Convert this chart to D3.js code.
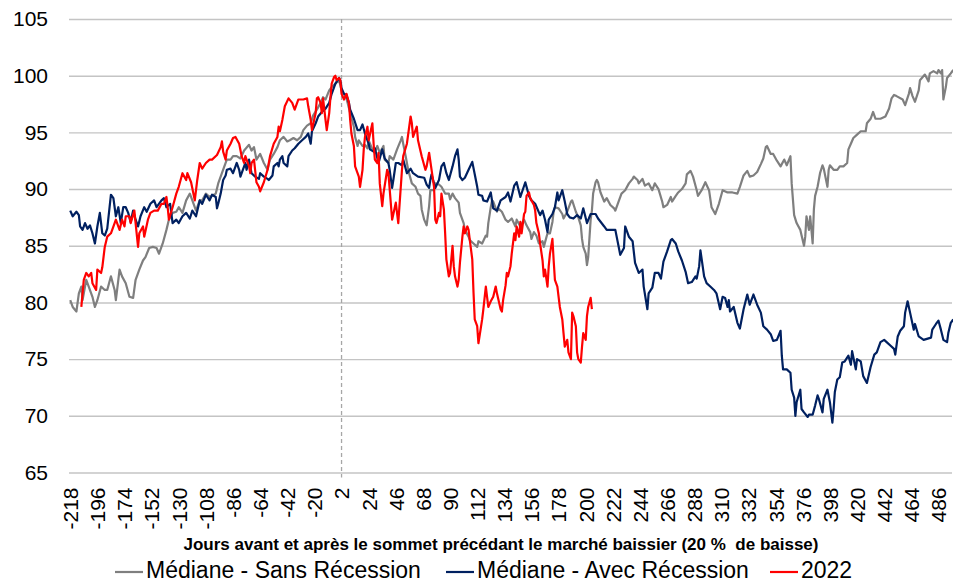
<!DOCTYPE html>
<html lang="fr">
<head>
<meta charset="utf-8" />
<script src="https://d3js.org/d3.v7.min.js"></script>
<style>
  body { margin: 0; background: #fff; }
  svg { font-family: "Liberation Sans", Arial, sans-serif; }
  .grid line { stroke: #c4c4c4; stroke-width: 1.4; }
  .axis text { fill: #000; font-size: 21px; }
</style>
</head>
<body>
<svg id="chart" width="953" height="584"></svg>
<script>
// jours (catégories) et tick labels
const tickDays = d3.range(-218, 487, 22);
const yTicks = [65, 70, 75, 80, 85, 90, 95, 100, 105];
const peakDay = 2;

// Médiane - Sans Récession
const grayDays = [-218,-216,-213,-211,-209,-208,-205,-203,-200,-198,-196,-193,-190,-188,-185,-182,-181,-178,-176,-173,-170,-167,-165,-162,-159,-157,-154,-151,-148,-146,-143,-140,-138,-135,-132,-130,-127,-124,-121,-119,-116,-113,-111,-108,-105,-100,-98,-95,-92,-91,-88,-86,-83,-80,-77,-73,-71,-69,-67,-64,-61,-58,-56,-53,-50,-48,-45,-42,-40,-37,-34,-31,-29,-26,-23,-21,-18,-15,-13,-11,-8,-6,-3,0,2,6,9,12,13,15,16,19,21,23,24,27,29,31,33,36,37,40,41,44,47,50,51,52,54,56,59,62,64,66,67,69,71,73,74,77,78,81,83,86,89,90,92,94,97,98,101,102,105,106,109,112,113,116,119,120,121,123,124,125,128,129,132,135,137,140,143,144,147,150,152,155,156,158,160,162,165,166,169,171,173,174,175,178,181,182,185,188,189,192,194,196,197,198,200,201,202,204,205,206,208,209,210,212,215,217,220,223,224,227,229,232,235,238,239,242,243,246,248,251,254,256,259,262,263,266,269,270,273,275,278,281,282,285,287,290,291,294,297,300,302,305,308,311,315,319,323,325,328,331,333,336,339,342,344,346,347,350,352,355,358,361,363,366,367,369,371,374,377,378,379,381,382,384,385,386,388,390,392,393,396,397,398,401,404,406,409,412,413,415,417,420,423,427,428,431,433,435,439,443,446,448,450,452,457,459,462,463,465,467,470,471,475,478,479,482,485,486,488,489,490,492,493,496,498];
const grayVals = [80.2,79.6,79.2,80.8,81.4,80.2,82.0,81.4,80.5,79.6,80.2,81.4,81.1,81.1,82.3,81.1,80.2,82.9,82.3,81.7,80.5,80.4,82.0,82.9,83.7,84.0,84.8,84.9,84.8,84.3,85.2,86.4,87.3,87.9,88.0,88.4,87.9,89.0,89.6,89.0,88.1,89.0,89.0,89.6,89.3,89.6,90.5,91.4,92.3,92.6,92.6,92.9,92.9,92.7,93.4,93.9,93.4,93.7,92.6,93.1,92.3,91.7,92.6,93.1,93.7,94.3,94.6,94.2,94.3,94.5,94.3,94.6,95.2,95.6,95.8,96.5,97.0,97.6,98.1,97.9,98.7,99.0,99.3,99.6,98.7,98.0,96.7,95.5,94.6,93.8,94.3,93.8,93.9,93.6,94.3,93.5,93.2,93.8,93.2,93.8,92.6,92.3,92.9,92.6,93.5,94.3,94.6,94.0,92.9,91.7,90.5,90.2,89.6,89.4,88.2,87.3,86.8,88.5,89.9,89.9,90.5,90.4,90.2,89.6,89.6,89.1,89.6,89.2,88.8,87.9,87.0,86.4,85.8,85.5,85.2,84.9,85.4,85.2,85.9,85.8,87.0,88.4,89.0,88.9,88.0,88.3,88.0,87.3,87.1,87.4,86.7,87.3,86.7,87.3,86.8,86.2,85.6,86.2,85.9,85.2,85.4,84.9,86.1,86.1,87.1,88.0,88.4,88.3,87.8,87.4,88.0,88.9,89.0,88.0,87.5,86.8,85.6,84.9,84.3,83.3,84.0,87.3,88.1,89.6,90.6,90.8,90.6,89.7,88.9,89.2,88.6,88.3,88.1,89.0,89.6,89.9,90.5,90.9,91.1,90.8,90.5,90.9,90.3,90.5,89.9,90.5,90.0,88.9,88.4,88.6,89.3,88.9,89.4,89.7,90.0,90.5,91.3,91.6,91.1,89.9,89.4,89.9,90.6,89.9,88.4,87.8,88.7,89.9,89.7,89.7,89.6,90.2,91.2,91.6,91.1,91.2,91.5,92.2,92.7,93.7,93.8,93.1,93.1,92.5,92.0,92.6,92.1,92.9,90.5,87.7,87.0,86.4,85.0,85.8,87.6,86.4,87.6,85.2,88.2,89.4,90.2,91.4,92.1,91.8,90.2,91.7,92.1,91.7,91.7,92.0,92.0,92.3,93.5,94.0,94.5,94.8,95.1,95.1,95.8,96.2,96.8,96.2,96.2,96.4,97.1,98.0,98.3,98.2,97.9,97.4,98.4,98.9,98.2,97.7,98.7,99.6,100.1,99.5,100.2,100.4,100.2,100.5,100.2,100.5,97.9,99.0,99.8,100.2,100.5];

// Médiane - Avec Récession
const navyDays = [-218,-216,-213,-211,-210,-208,-206,-204,-202,-200,-198,-196,-194,-192,-190,-188,-185,-183,-181,-179,-177,-175,-173,-171,-169,-167,-165,-163,-161,-158,-156,-153,-150,-148,-144,-142,-140,-137,-135,-132,-130,-127,-124,-121,-119,-116,-113,-111,-108,-105,-103,-100,-99,-98,-96,-95,-94,-92,-91,-88,-86,-84,-83,-81,-80,-77,-76,-75,-73,-71,-68,-65,-64,-61,-58,-57,-54,-53,-50,-49,-48,-46,-45,-42,-41,-38,-36,-33,-30,-27,-25,-23,-22,-19,-17,-14,-11,-8,-6,-3,0,1,2,4,6,8,9,12,15,17,19,21,24,25,28,29,32,35,37,40,41,43,44,46,48,51,52,55,58,60,64,69,71,73,74,75,78,81,83,85,87,89,92,94,96,97,98,100,102,105,108,110,112,113,116,117,120,123,125,128,131,135,137,139,142,144,147,151,154,156,159,163,165,167,169,170,173,175,177,178,181,183,185,187,190,193,196,198,201,204,208,210,215,217,221,224,228,231,232,235,238,240,243,246,247,250,251,254,256,259,261,263,266,269,270,273,275,278,281,283,286,289,290,292,293,296,298,301,304,306,309,311,313,315,316,317,320,323,325,328,331,333,336,339,342,344,347,350,352,355,358,359,360,363,366,367,369,370,371,374,375,377,380,381,384,386,388,389,392,393,396,398,400,401,402,404,406,408,410,413,415,416,419,420,423,425,428,431,434,436,439,442,444,447,450,451,453,455,458,459,461,463,466,467,470,474,480,481,484,486,488,490,493,494,496,498];
const navyVals = [88.1,87.6,88.0,87.7,86.7,86.4,87.0,86.5,86.8,86.1,85.2,86.7,87.9,86.1,85.9,86.5,89.5,89.2,87.6,88.4,87.0,88.4,88.4,87.9,87.1,88.1,87.3,86.7,87.6,88.4,88.0,88.7,89.0,88.4,89.0,89.2,88.4,88.7,87.0,87.3,87.0,87.6,87.9,87.4,88.1,87.6,89.0,88.7,89.5,89.0,89.5,89.3,88.3,88.7,89.6,90.2,90.8,91.2,91.7,91.8,91.4,92.0,92.3,91.7,91.1,92.0,92.3,91.7,92.6,91.4,91.1,90.9,91.4,91.1,90.9,90.8,91.2,92.0,92.3,92.0,92.6,92.9,92.3,92.0,92.9,93.4,93.6,94.0,94.3,94.6,94.9,94.0,95.1,95.8,96.4,96.8,97.1,97.6,98.4,99.3,99.8,99.6,98.9,98.4,98.3,97.6,97.0,96.2,95.2,95.2,95.7,94.9,94.0,93.5,93.3,93.6,92.3,93.5,92.7,92.3,91.7,90.1,90.8,92.3,92.3,92.1,92.6,91.4,91.8,91.4,91.1,91.0,90.4,90.1,90.8,91.3,90.1,90.8,92.0,92.3,91.4,90.8,92.0,92.9,93.5,92.6,91.1,90.8,91.0,91.7,92.4,91.3,90.2,89.5,89.4,89.0,88.9,89.7,88.3,88.1,89.0,89.3,89.7,88.9,90.3,90.6,89.3,90.6,89.4,89.0,88.7,87.7,88.1,87.3,86.2,87.3,87.8,88.4,89.7,89.0,89.9,88.9,87.8,87.5,87.4,87.7,87.4,88.3,87.0,87.8,87.8,87.4,86.7,86.4,86.4,86.4,84.2,84.8,86.7,85.8,85.4,83.5,82.6,82.9,81.4,79.4,80.8,81.3,82.6,82.6,82.1,83.6,84.5,85.5,85.6,85.2,84.5,83.7,82.7,81.7,81.8,82.3,82.1,83.2,84.6,82.3,81.7,81.4,81.1,80.8,79.4,80.5,80.4,79.6,80.2,79.2,79.6,78.2,77.7,79.4,80.7,79.8,80.7,79.8,79.1,77.9,77.6,77.2,76.6,76.7,77.5,75.3,74.1,74.1,73.8,72.3,71.6,70.0,71.2,72.3,70.6,70.3,69.9,70.1,70.1,70.9,71.8,71.5,70.3,71.5,72.3,71.2,69.4,70.6,72.1,73.2,73.4,74.7,74.8,75.3,74.5,75.7,74.1,75.0,74.8,73.5,72.9,74.3,75.4,75.6,76.5,76.7,76.5,76.2,75.9,75.4,77.0,77.5,77.9,79.1,80.1,79.1,77.6,78.1,77.0,76.7,76.9,77.6,78.1,78.4,77.6,76.7,76.5,77.3,78.2,78.5];

// 2022
const redDays = [-209,-208,-207,-205,-203,-201,-200,-197,-196,-193,-192,-190,-188,-185,-182,-181,-178,-176,-174,-173,-170,-169,-166,-165,-163,-162,-159,-158,-155,-153,-150,-147,-144,-142,-140,-139,-138,-135,-132,-130,-127,-124,-123,-120,-117,-115,-113,-111,-108,-105,-103,-99,-96,-95,-94,-92,-91,-88,-86,-84,-81,-79,-77,-76,-73,-72,-71,-69,-67,-65,-64,-61,-58,-56,-53,-50,-49,-48,-46,-44,-41,-38,-36,-33,-29,-26,-25,-23,-22,-19,-18,-17,-15,-14,-13,-11,-10,-8,-7,-6,-4,-3,-2,0,1,2,4,6,8,9,10,12,13,16,17,19,20,21,23,24,27,28,29,31,32,33,35,36,39,40,43,46,48,51,52,55,58,59,60,63,64,67,70,71,73,75,77,78,79,81,82,83,85,86,87,89,90,92,93,94,96,97,98,100,101,102,104,105,106,108,109,110,112,113,115,116,117,119,120,121,123,125,127,128,131,132,133,135,136,137,139,140,142,143,144,146,147,148,150,151,152,154,155,158,159,160,162,163,165,166,167,169,170,171,173,174,175,177,178,179,181,182,183,185,186,188,189,190,192,193,194,196,197,198,200,201,202,204,205];
const redVals = [79.6,80.8,82.0,82.6,82.3,82.6,81.7,81.1,82.9,82.6,83.1,84.9,85.8,86.1,87.0,87.3,86.4,87.3,86.7,87.6,87.6,87.0,88.1,87.0,84.9,86.1,86.7,85.8,87.3,87.9,88.1,88.1,88.7,88.7,89.3,88.4,87.3,88.4,89.6,90.2,91.4,90.8,91.4,90.6,89.0,90.8,92.3,91.8,92.3,92.6,92.6,93.0,93.7,94.2,93.3,92.6,93.4,94.0,94.5,94.6,94.0,92.9,92.3,92.9,92.0,91.4,92.3,92.6,90.6,90.2,89.8,90.6,91.7,92.9,94.0,94.6,95.5,95.1,96.1,97.3,98.0,97.6,97.0,97.9,97.9,98.0,97.3,96.1,95.2,96.7,98.0,98.1,97.6,96.7,98.0,96.1,95.2,96.7,98.1,99.3,99.9,100.0,99.6,99.8,99.6,98.4,97.9,98.4,97.6,96.1,94.9,93.8,92.0,91.1,90.2,91.7,93.5,94.6,95.5,94.3,95.8,94.0,92.6,92.3,93.2,90.5,88.5,89.6,91.7,91.4,87.3,88.8,87.0,91.7,92.9,94.0,96.4,95.8,94.6,95.5,94.3,92.9,91.7,92.0,93.2,91.7,90.2,87.3,87.0,87.9,87.6,89.6,88.2,86.1,83.8,82.3,82.6,85.0,83.2,82.3,81.4,82.0,83.5,85.8,86.7,86.1,86.7,86.4,85.5,83.8,80.9,78.5,77.9,76.4,77.8,78.5,79.4,81.4,80.5,79.6,80.1,80.5,81.4,80.8,79.4,79.2,80.2,81.5,82.6,82.3,83.2,84.3,86.1,85.5,86.7,85.8,87.1,86.1,87.8,88.0,89.4,89.7,89.2,88.6,88.1,87.0,86.1,85.2,83.7,82.3,82.9,81.4,83.2,84.3,85.6,83.7,82.0,81.4,80.5,79.6,78.5,77.3,76.1,76.7,75.6,75.0,79.1,78.8,77.9,75.6,75.0,74.7,76.1,77.3,76.7,78.8,79.6,80.4,79.4];

const series = [
  {name: "Médiane - Sans Récession", color: "#7f7f7f", days: grayDays, vals: grayVals},
  {name: "Médiane - Avec Récession", color: "#002060", days: navyDays, vals: navyVals},
  {name: "2022", color: "#ff0000", days: redDays, vals: redVals}
];

const svg = d3.select("svg#chart");
const margin = {top: 19, right: 1, bottom: 111.5, left: 69};
const width = +svg.attr("width") - margin.left - margin.right;
const height = +svg.attr("height") - margin.top - margin.bottom;

const x = d3.scaleLinear().domain([-219, 497]).range([0, width]);
const y = d3.scaleLinear().domain([65, 105]).range([height, 0]);

let g = svg.append("g")
  .attr("transform", "translate(" + margin.left + "," + margin.top + ")");

// gridlines + y labels
let yAxis = g.append("g")
  .attr("class", "axis grid")
  .call(d3.axisLeft(y).tickValues(yTicks).tickSize(-width).tickPadding(21));
yAxis.select(".domain").remove();

// dashed line at the peak
g.append("line")
  .attr("x1", x(peakDay)).attr("x2", x(peakDay))
  .attr("y1", 0).attr("y2", height + 5)
  .attr("stroke", "#a6a6a6")
  .attr("stroke-width", 1.3)
  .attr("stroke-dasharray", "4,3");

// x labels, rotated (plain hyphen for negatives, like the original)
let xAxis = g.append("g")
  .attr("class", "axis")
  .attr("transform", "translate(0," + (height + 15) + ")")
  .call(d3.axisBottom(x).tickValues(tickDays).tickSize(0).tickFormat(d => String(d)));
xAxis.select(".domain").remove();
xAxis.selectAll("text")
  .attr("transform", "rotate(-90)")
  .attr("x", 0)
  .attr("y", 0)
  .attr("dy", "0.35em")
  .style("text-anchor", "end");

// lines
const line = d3.line()
  .x(d => x(d[0]))
  .y(d => y(d[1]));

series.forEach(s => {
  g.append("path")
    .datum(d3.zip(s.days, s.vals))
    .attr("fill", "none")
    .attr("stroke", s.color)
    .attr("stroke-width", 2.2)
    .attr("stroke-linejoin", "round")
    .attr("d", line);
});

// axis title
svg.append("text")
  .attr("x", 501)
  .attr("y", 550)
  .style("text-anchor", "middle")
  .style("font-weight", "bold")
  .style("font-size", "17px")
  .style("white-space", "pre")
  .text("Jours avant et après le sommet précédant le marché baissier (20 %  de baisse)");

// legend
const legendX = [115, 446, 770];
let legend = svg.append("g").attr("class", "legend");
series.forEach((s, i) => {
  legend.append("line")
    .attr("x1", legendX[i]).attr("x2", legendX[i] + 28)
    .attr("y1", 572).attr("y2", 572)
    .attr("stroke", s.color)
    .attr("stroke-width", 2.2);
  legend.append("text")
    .attr("x", legendX[i] + 31)
    .attr("y", 578)
    .style("font-size", "23px")
    .text(s.name);
});
</script>
</body>
</html>
